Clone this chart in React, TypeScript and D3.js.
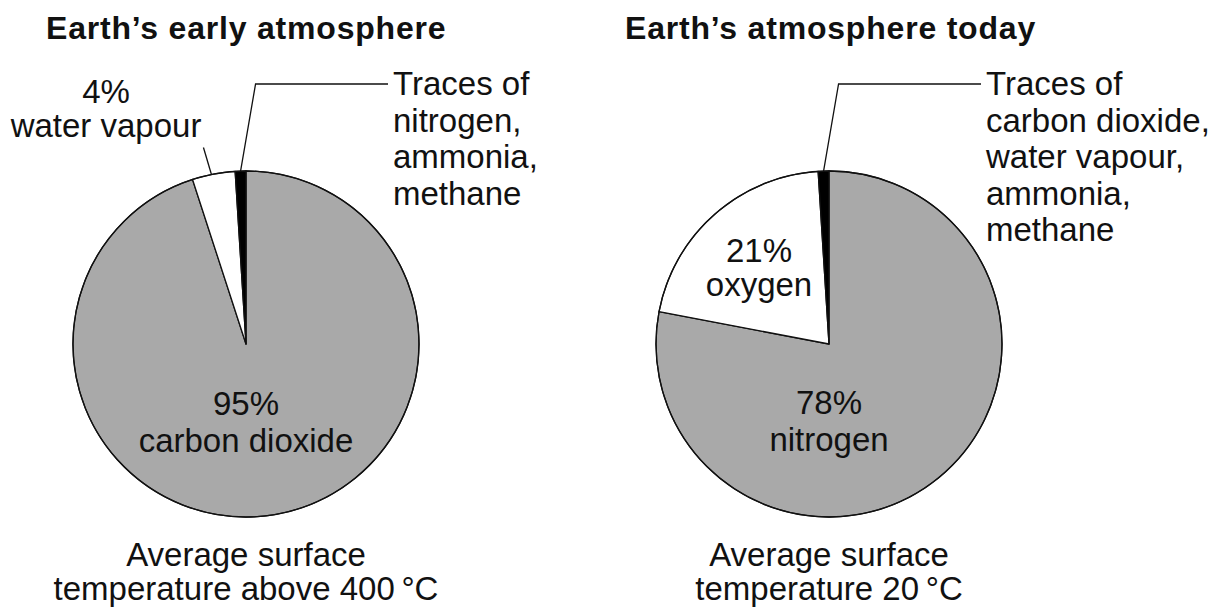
import * as d3 from "d3";

/* ------------------------------------------------------------------ */
/*  Data                                                              */
/* ------------------------------------------------------------------ */

const earlyKeys = ["carbon dioxide", "water vapour", "traces"];
const earlyValues = [95, 4, 1];
const todayKeys = ["nitrogen", "oxygen", "traces"];
const todayValues = [78, 21, 1];

const sliceFills = ["#a9a9a9", "#ffffff", "#000000"];

const titles = ["Earth\u2019s early atmosphere", "Earth\u2019s atmosphere today"];
const earlyTraceLines = ["Traces of", "nitrogen,", "ammonia,", "methane"];
const todayTraceLines = ["Traces of", "carbon dioxide,", "water vapour,", "ammonia,", "methane"];
const earlyFooter = ["Average surface", "temperature above 400\u2009\u00B0C"];
const todayFooter = ["Average surface", "temperature 20\u2009\u00B0C"];

const W = 1228;
const H = 609;
const R = 173;
const FONT = "'Liberation Sans', Arial, Helvetica, sans-serif";

type PieProps = {
  cx: number;
  values: number[];
  keys: string[];
  title: string;
  titleX: number;
  traceLines: string[];
  traceX: number;
  footer: string[];
  mainLabel: { dx: number; dy: number };
  minorLabel: { dx: number; dy: number; outside: boolean };
};

function Pie({ cx, values, keys, title, titleX, traceLines, traceX, footer, mainLabel, minorLabel }: PieProps) {
  const cy = 344;
  const pie = d3
    .pie<number>()
    .sort(null)
    .startAngle(0)
    .endAngle(2 * Math.PI);
  const arcs = pie(values);
  const arc = d3.arc<d3.PieArcDatum<number>>().innerRadius(0).outerRadius(R);

  // point on the rim inside a slice
  const rim = (a: d3.PieArcDatum<number>, t = 0.5) => {
    const ang = a.startAngle + (a.endAngle - a.startAngle) * t;
    return [R * Math.sin(ang), -R * Math.cos(ang)];
  };

  const trace = arcs[2];
  const [tx, ty] = rim(trace);
  const leaderY = 84 - cy;
  const traceLeader = d3.line()([
    [tx, ty],
    [tx + 15, leaderY],
    [traceX - cx - 5, leaderY],
  ]);

  const minor = arcs[1];
  const [mx, my] = rim(minor, 0.45);

  const lh = 36.5;

  return (
    <g>
      <text
        x={titleX}
        y={39}
        fontFamily={FONT}
        fontWeight={700}
        fontSize={32}
        letterSpacing={0.8}
        fill="#111"
      >
        {title}
      </text>
      <g transform={`translate(${cx},${cy})`}>
        {arcs.map((a, i) => (
          <path
            key={keys[i]}
            d={arc(a) ?? ""}
            fill={sliceFills[i]}
            stroke="#111"
            strokeWidth={1.3}
            strokeLinejoin="round"
          />
        ))}
        <circle r={R} fill="none" stroke="#111" strokeWidth={1.3} />
        <path d={traceLeader ?? ""} fill="none" stroke="#111" strokeWidth={1.3} />
        {minorLabel.outside && (
          <line x1={mx - 8} y1={my - 27} x2={mx} y2={my} stroke="#111" strokeWidth={1.3} />
        )}
        <text
          x={mainLabel.dx}
          y={mainLabel.dy}
          textAnchor="middle"
          fontFamily={FONT}
          fontSize={33}
          fill="#111"
        >
          <tspan x={mainLabel.dx}>{`${values[0]}%`}</tspan>
          <tspan x={mainLabel.dx} dy={37}>
            {keys[0]}
          </tspan>
        </text>
        <text
          x={minorLabel.dx}
          y={minorLabel.dy}
          textAnchor="middle"
          fontFamily={FONT}
          fontSize={33}
          fill="#111"
        >
          <tspan x={minorLabel.dx}>{`${values[1]}%`}</tspan>
          <tspan x={minorLabel.dx} dy={34}>
            {keys[1]}
          </tspan>
        </text>
      </g>
      <text x={traceX} y={95} fontFamily={FONT} fontSize={33} fill="#111">
        {traceLines.map((t, i) => (
          <tspan key={t} x={traceX} dy={i === 0 ? 0 : lh}>
            {t}
          </tspan>
        ))}
      </text>
      <text x={cx} y={566} textAnchor="middle" fontFamily={FONT} fontSize={33} fill="#111">
        {footer.map((t, i) => (
          <tspan key={t} x={cx} dy={i === 0 ? 0 : 34}>
            {t}
          </tspan>
        ))}
      </text>
    </g>
  );
}

export default function App() {
  return (
    <svg
      width={W}
      height={H}
      viewBox={`0 0 ${W} ${H}`}
      style={{ position: "absolute", left: 0, top: 0, background: "#fff" }}
    >
      <rect width={W} height={H} fill="#fff" />
      <Pie
        cx={246}
        values={earlyValues}
        keys={earlyKeys}
        title={titles[0]}
        titleX={46}
        traceLines={earlyTraceLines}
        traceX={393}
        footer={earlyFooter}
        mainLabel={{ dx: 0, dy: 71 }}
        minorLabel={{ dx: -140, dy: -241, outside: true }}
      />
      <Pie
        cx={829}
        values={todayValues}
        keys={todayKeys}
        title={titles[1]}
        titleX={625}
        traceLines={todayTraceLines}
        traceX={986}
        footer={todayFooter}
        mainLabel={{ dx: 0, dy: 70 }}
        minorLabel={{ dx: -70, dy: -82, outside: false }}
      />
    </svg>
  );
}
